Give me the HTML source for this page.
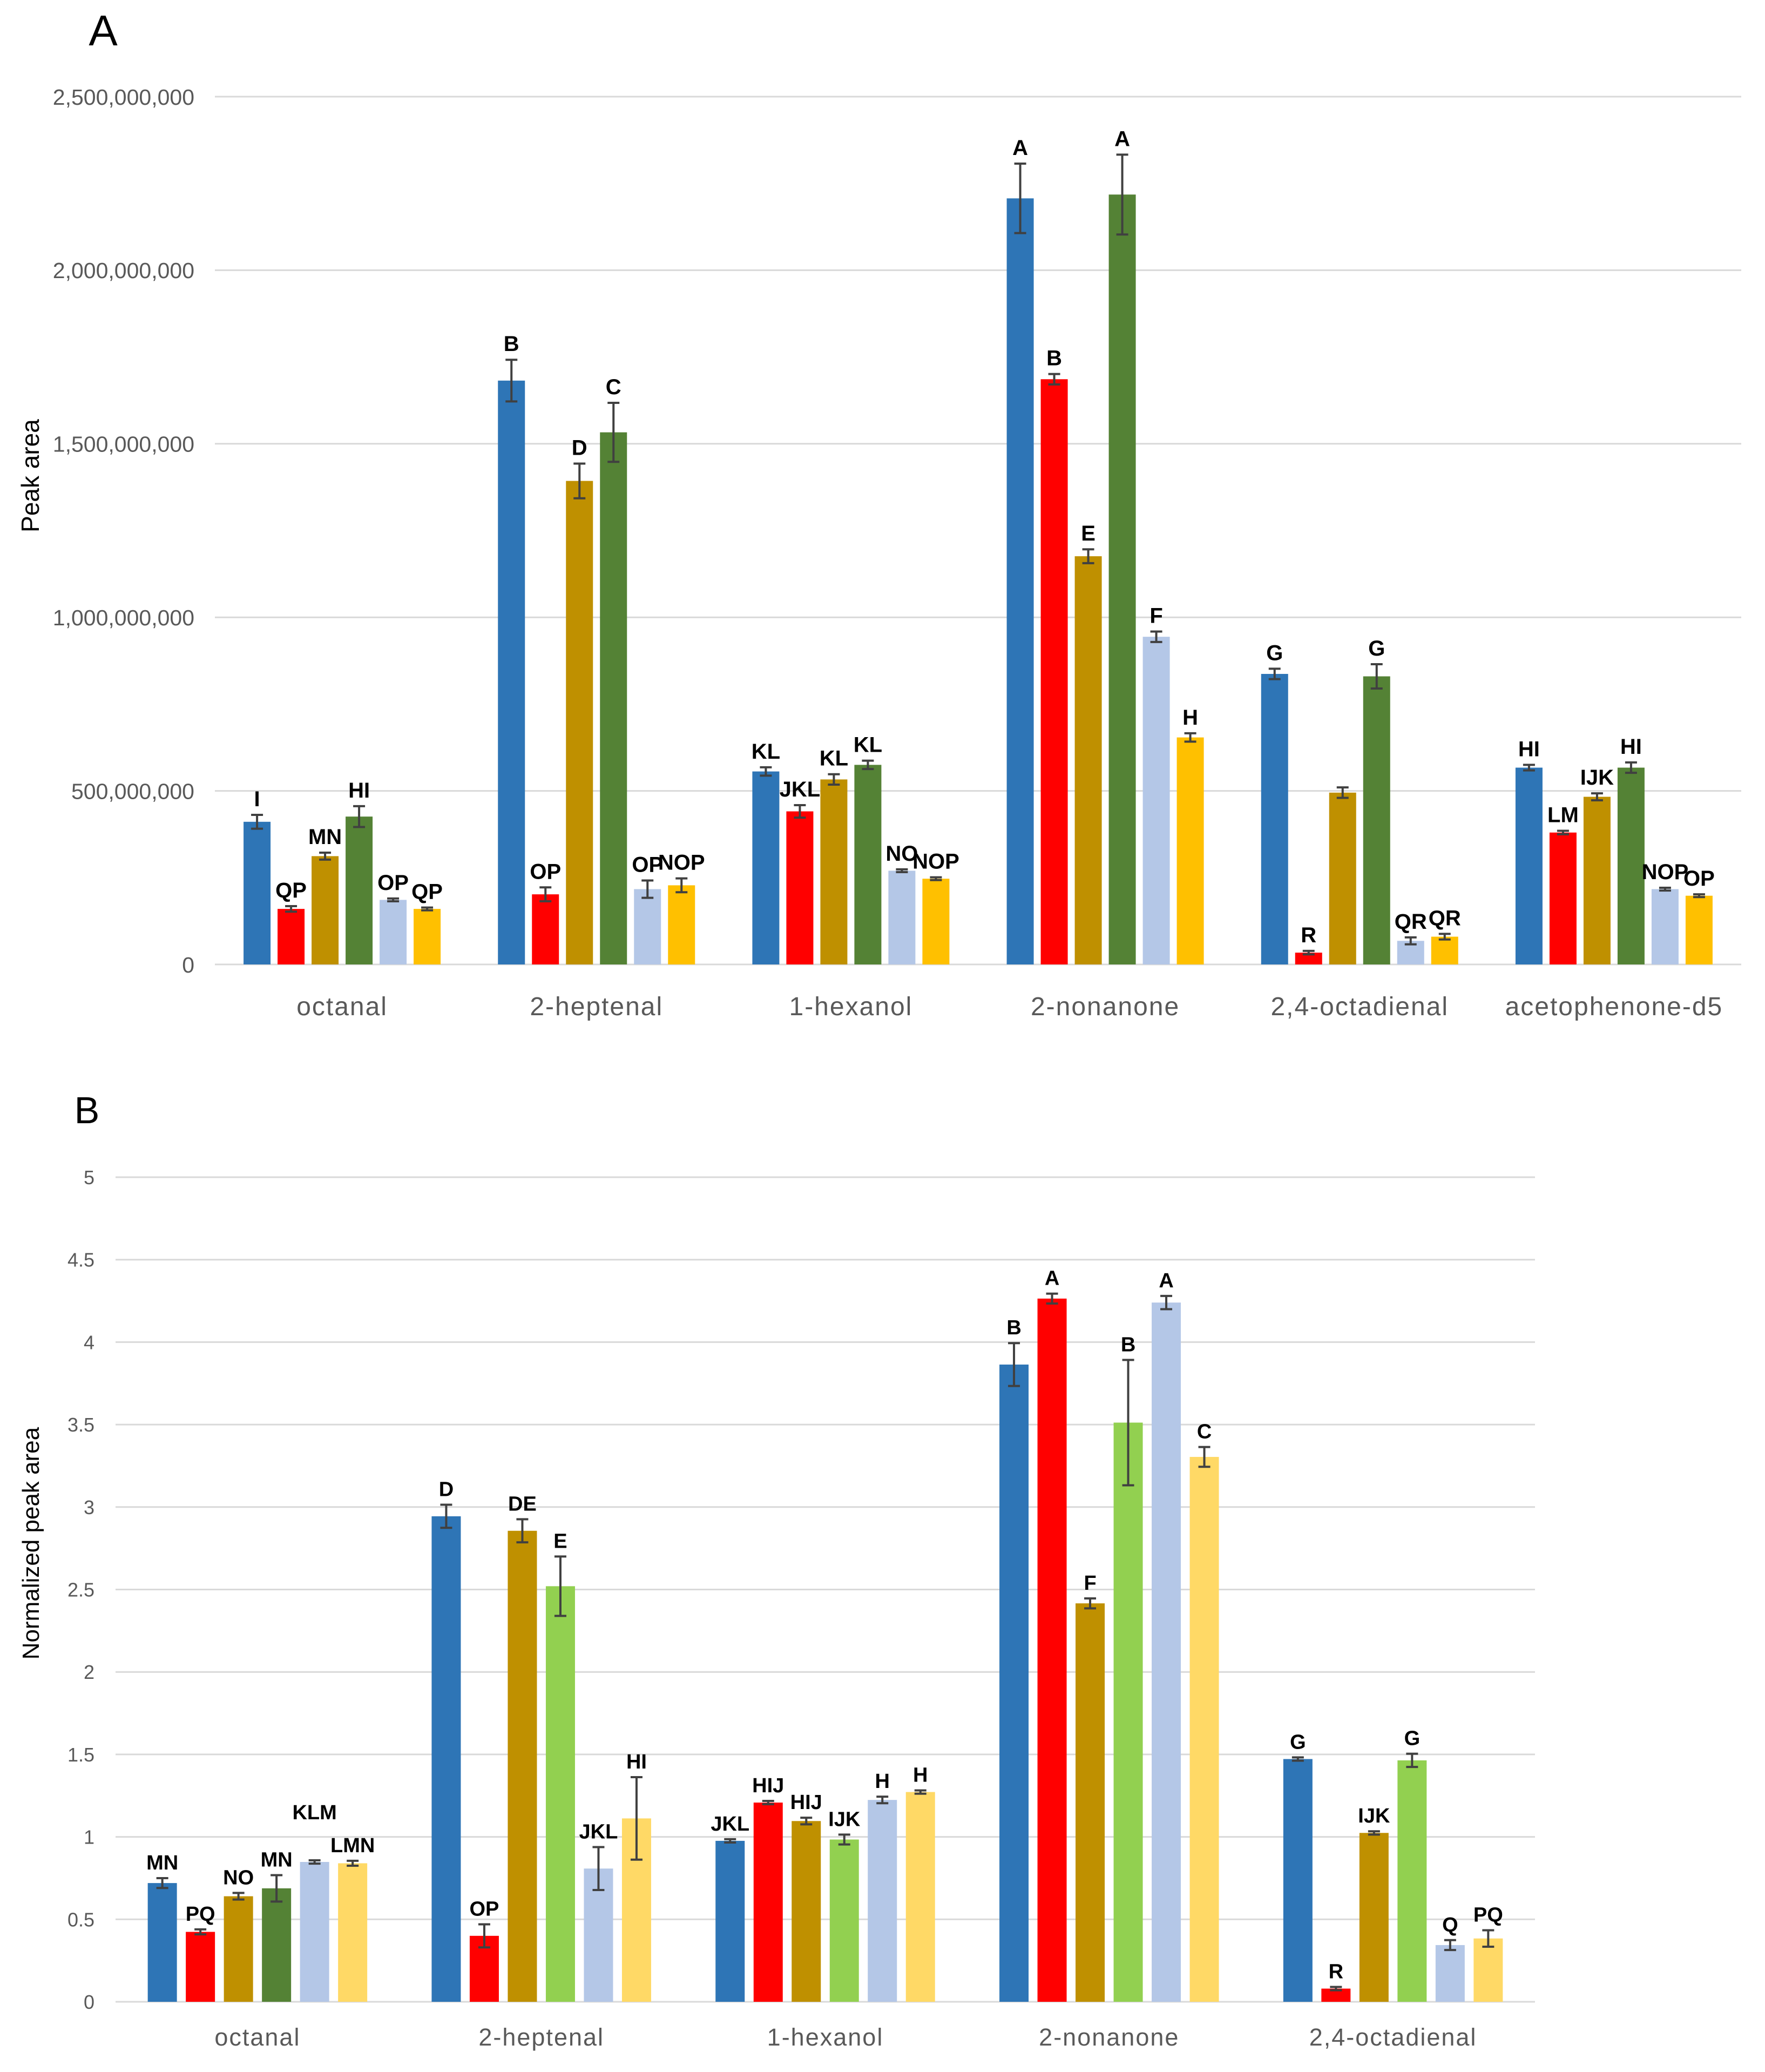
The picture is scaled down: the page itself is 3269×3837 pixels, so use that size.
<!DOCTYPE html>
<html><head><meta charset="utf-8"><style>
html,body{margin:0;padding:0;background:#fff}
svg{display:block}
text{font-family:"Liberation Sans",sans-serif}
</style></head><body>
<svg id="chart" width="3269" height="3837" viewBox="0 0 3269 3837" xmlns="http://www.w3.org/2000/svg">
<rect width="3269" height="3837" fill="#fff"/>
<text x="191" y="84" font-size="80" fill="#000" text-anchor="middle">A</text>
<text x="161" y="2080" font-size="70" fill="#000" text-anchor="middle">B</text>
<text transform="translate(72,881) rotate(-90)" font-size="46" fill="#000" text-anchor="middle">Peak area</text>
<text transform="translate(72,2858) rotate(-90)" font-size="44" fill="#000" text-anchor="middle">Normalized peak area</text>
<g id="pa"></g>
<g id="pb"></g>
</svg>
<script>
const catsA = ["octanal","2-heptenal","1-hexanol","2-nonanone","2,4-octadienal","acetophenone-d5"];
const valsA = [
 [0.411,0.160,0.312,0.426,0.186,0.160],
 [1.682,0.202,1.393,1.533,0.217,0.228],
 [0.556,0.441,0.533,0.575,0.270,0.247],
 [2.207,1.686,1.176,2.218,0.944,0.654],
 [0.837,0.034,0.495,0.830,0.068,0.080],
 [0.567,0.380,0.483,0.567,0.217,0.198]];
const errA = [
 [0.02,0.008,0.01,0.03,0.004,0.004],
 [0.06,0.02,0.05,0.085,0.025,0.02],
 [0.012,0.018,0.015,0.012,0.004,0.004],
 [0.10,0.015,0.02,0.115,0.015,0.012],
 [0.015,0.005,0.015,0.035,0.01,0.008],
 [0.008,0.005,0.01,0.015,0.004,0.004]];
const lettersA = [
 ["I","QP","MN","HI","OP","QP"],
 ["B","OP","D","C","OP","NOP"],
 ["KL","JKL","KL","KL","NO","NOP"],
 ["A","B","E","A","F","H"],
 ["G","R","","G","QR","QR"],
 ["HI","LM","IJK","HI","NOP","OP"]];
const ticksA = ["0","500,000,000","1,000,000,000","1,500,000,000","2,000,000,000","2,500,000,000"];
const tickValsA = [0,0.5,1,1.5,2,2.5];

const catsB = ["octanal","2-heptenal","1-hexanol","2-nonanone","2,4-octadienal"];
const valsB = [
 [0.72,0.424,0.64,0.688,0.848,0.84],
 [2.944,0.40,2.856,2.52,0.808,1.112],
 [0.976,1.208,1.096,0.984,1.224,1.272],
 [3.864,4.264,2.416,3.512,4.24,3.304],
 [1.472,0.08,1.024,1.464,0.344,0.384]];
const errB = [
 [0.03,0.015,0.02,0.08,0.01,0.015],
 [0.07,0.07,0.07,0.18,0.13,0.25],
 [0.01,0.01,0.02,0.03,0.02,0.01],
 [0.13,0.03,0.03,0.38,0.04,0.06],
 [0.01,0.01,0.01,0.04,0.03,0.05]];
const lettersB = [
 ["MN","PQ","NO","MN","KLM","LMN"],
 ["D","OP","DE","E","JKL","HI"],
 ["JKL","HIJ","HIJ","IJK","H","H"],
 ["B","A","F","B","A","C"],
 ["G","R","IJK","G","Q","PQ"]];
const ticksB = ["0","0.5","1","1.5","2","2.5","3","3.5","4","4.5","5"];
const tickValsB = [0,0.5,1,1.5,2,2.5,3,3.5,4,4.5,5];

const NS="http://www.w3.org/2000/svg";
function mk(parent,tag,attrs,text){const e=document.createElementNS(NS,tag);for(const k in attrs)e.setAttribute(k,attrs[k]);if(text!==undefined)e.textContent=text;parent.appendChild(e);return e;}

function draw(g,cfg){
  const {cats,vals,errs,letters,ticks,tickVals,x0,x1,y0,yTop,vmax,colors,pitch,bw,tickFs,catFs,catY,tickRight,letFs}=cfg;
  const yS=v=>y0-(v/vmax)*(y0-yTop);
  const cw=(x1-x0)/cats.length;
  tickVals.forEach((tv,i)=>{
    const y=yS(tv);
    const gl=mk(g,'line',{x1:x0,x2:x1,y1:y,y2:y,stroke:'#D9D9D9','stroke-width':3});
    
    
    const t=mk(g,'text',{x:tickRight,y:y+tickFs*0.36,'font-size':tickFs,fill:'#595959','text-anchor':'end'},ticks[i]);
    
    
  });
  cats.forEach((c,ci)=>{
    const cx=x0+cw*(ci+0.5);
    const start=cx-pitch*3;
    vals[ci].forEach((v,si)=>{
      const bx=start+pitch*si+(pitch-bw)/2;
      const top=yS(v);
      let col=colors[si];
      if(cfg.override && cfg.override[ci] && cfg.override[ci][si]) col=cfg.override[ci][si];
      const r=mk(g,'rect',{x:bx,y:top,width:bw,height:y0-top,fill:col});
      
      
      const e=errs[ci][si];
      const ex=bx+bw/2, et=yS(v+e), eb=yS(v-e);
      const eg=mk(g,'path',{d:`M${ex},${et}V${eb}M${ex-11},${et}H${ex+11}M${ex-11},${eb}H${ex+11}`,stroke:'#404040','stroke-width':4,fill:'none'});
      
      
      if(letters[ci][si]){
        let lift=16;
        if(cfg.lift && cfg.lift[ci] && cfg.lift[ci][si]) lift+=cfg.lift[ci][si];
        const lt=mk(g,'text',{x:ex,y:et-lift,'font-size':letFs,'font-weight':'bold',fill:'#000','text-anchor':'middle'},letters[ci][si]);
        
        
      }
    });
    const ct=mk(g,'text',{x:cx,y:catY,'font-size':catFs,fill:'#595959','text-anchor':'middle','letter-spacing':2},c);
    
    
  });
}
draw(document.getElementById('pa'),{cats:catsA,vals:valsA,errs:errA,letters:lettersA,ticks:ticksA,tickVals:tickValsA,
  x0:398,x1:3225,y0:1786,yTop:179,vmax:2.5,colors:["#2E75B6","#FF0000","#BF9000","#548235","#B4C7E7","#FFC000"],
  pitch:63,bw:50,tickFs:41,catFs:48,catY:1880,tickRight:360,letFs:40});
draw(document.getElementById('pb'),{cats:catsB,vals:valsB,errs:errB,letters:lettersB,ticks:ticksB,tickVals:tickValsB,
  x0:214,x1:2843,y0:3707,yTop:2180,vmax:5,colors:["#2E75B6","#FF0000","#BF9000","#92D050","#B4C7E7","#FFD966"],
  override:[[null,null,null,"#548235",null,null]],
  lift:[[0,0,0,0,60,0]],
  pitch:70.5,bw:54,tickFs:36,catFs:45,catY:3788,tickRight:175,letFs:38});
</script>
</body></html>
